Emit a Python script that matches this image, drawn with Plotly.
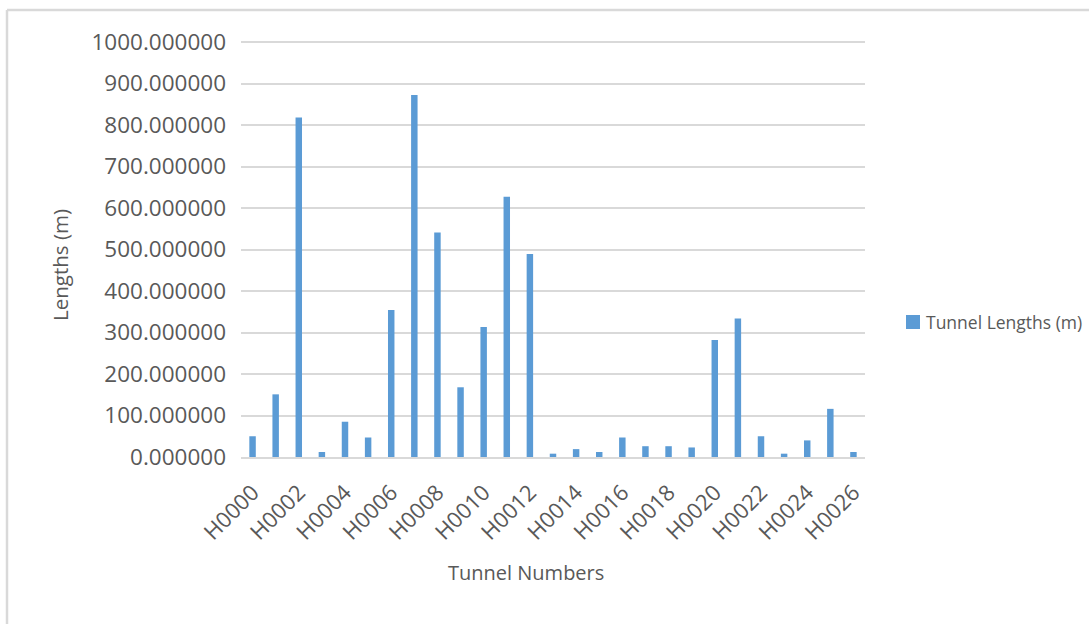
import plotly.graph_objects as go

# Tunnel identifiers and their measured lengths in metres
tunnel_ids = [f"H{i:04d}" for i in range(27)]
tunnel_lengths = [50, 151, 818, 12, 85, 47, 354, 872, 541, 168, 313, 627, 489,
                  8, 19, 12, 47, 26, 26, 23, 282, 334, 50, 8, 40, 116, 12]
y_ticks = [0, 100, 200, 300, 400, 500, 600, 700, 800, 900, 1000]
series_name = "Tunnel Lengths (m)"
x_title = "Tunnel Numbers"
y_title = "Lengths (m)"

BAR_COLOR = "#5B9BD5"
TEXT_COLOR = "#595959"
GRID_COLOR = "#D9D9D9"
FONT = "Open Sans"

W, H = 1089, 624
L, R, T, B = 241, 224, 40, 167
pw, ph = W - L - R, H - T - B
Y_MAX = 1000 * (ph / (ph - 2))  # leaves the 1000 gridline just inside the plot


def px_x(x):
    return (x - L) / pw


def px_y(y):
    return (H - B - y) / ph


fig = go.Figure()
fig.add_trace(go.Bar(
    x=tunnel_ids,
    y=tunnel_lengths,
    name=series_name,
    marker=dict(color=BAR_COLOR, line=dict(width=0)),
    showlegend=False,
))

fig.update_layout(
    width=W, height=H,
    margin=dict(l=L, r=R, t=T, b=B, autoexpand=False),
    paper_bgcolor="white",
    plot_bgcolor="white",
    bargap=0.72,
    font=dict(family=FONT, color=TEXT_COLOR),
    xaxis=dict(
        type="category",
        tickmode="array",
        tickvals=tunnel_ids[::2],
        ticktext=tunnel_ids[::2],
        tickangle=-45,
        tickfont=dict(size=22, color=TEXT_COLOR),
        ticks="",
        ticklabelstandoff=12,
        showgrid=False,
        showline=True,
        linecolor=GRID_COLOR,
        linewidth=2,
        automargin=False,
    ),
    yaxis=dict(
        range=[0, Y_MAX],
        tickmode="array",
        tickvals=y_ticks,
        tickformat=".6f",
        tickfont=dict(size=22.5, color=TEXT_COLOR),
        ticks="",
        ticklabelstandoff=14,
        showgrid=True,
        gridcolor=GRID_COLOR,
        gridwidth=1.5,
        zeroline=False,
        showline=False,
        automargin=False,
    ),
)

# Axis titles
fig.add_annotation(xref="paper", yref="paper", x=px_x(526), y=px_y(572),
                   text=x_title, showarrow=False, xanchor="center", yanchor="middle",
                   font=dict(family=FONT, size=20, color=TEXT_COLOR))
fig.add_annotation(xref="paper", yref="paper", x=px_x(60), y=px_y(265),
                   text=y_title, showarrow=False, textangle=-90,
                   xanchor="center", yanchor="middle",
                   font=dict(family=FONT, size=20.5, color=TEXT_COLOR))

# Outer frame of the chart area (runs off the right and bottom edges)
fig.add_shape(type="line", xref="paper", yref="paper",
              x0=px_x(7), x1=px_x(W + 20), y0=px_y(10), y1=px_y(10),
              line=dict(color=GRID_COLOR, width=2.5))
fig.add_shape(type="line", xref="paper", yref="paper",
              x0=px_x(7), x1=px_x(7), y0=px_y(10), y1=px_y(H + 20),
              line=dict(color=GRID_COLOR, width=2.5))

# Legend entry: swatch plus label
fig.add_shape(type="rect", xref="paper", yref="paper",
              x0=px_x(906), x1=px_x(920), y0=px_y(315), y1=px_y(329),
              fillcolor=BAR_COLOR, line=dict(width=0))
fig.add_annotation(xref="paper", yref="paper", x=px_x(924), y=px_y(322),
                   text=series_name, showarrow=False, xanchor="left", yanchor="middle",
                   font=dict(family=FONT, size=17.5, color=TEXT_COLOR))

fig.write_html("out.html")
